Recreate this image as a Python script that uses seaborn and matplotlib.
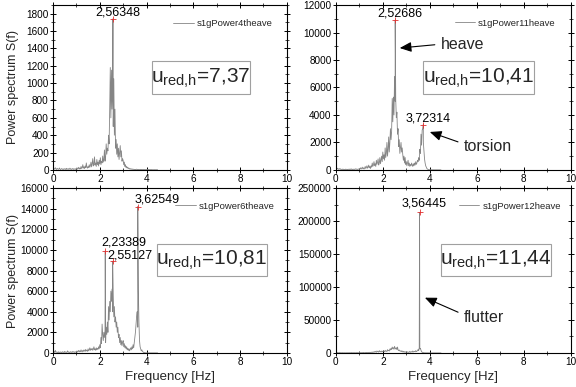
import numpy as np
import pandas as pd
import matplotlib
matplotlib.use("Agg")
import matplotlib.pyplot as plt
from matplotlib.ticker import MultipleLocator, FuncFormatter
from matplotlib.patches import Rectangle
import seaborn as sns

# ---------------- data ----------------
freq_step = 0.025  # spectrum sampling grid (Hz), 0 .. 4.475 (20 values per 0.5 Hz row)

p4_base = [
    5, 20, 8, 15, 25, 10, 5, 18, 12, 6, 10, 22, 8, 4, 12, 15, 6, 10, 5, 14,
    8, 12, 4, 18, 6, 10, 15, 5, 9, 20, 7, 12, 5, 10, 16, 6, 11, 8, 14, 5,
    10, 25, 8, 15, 30, 10, 20, 12, 40, 15, 25, 60, 20, 35, 15, 45, 25, 80, 30, 20,
    40, 25, 60, 30, 50, 90, 35, 70, 130, 45, 60, 150, 55, 80, 40, 120, 60, 90, 45, 110,
    70, 140, 60, 100, 80, 160, 90, 120, 230, 100, 150, 300, 180, 250, 220, 400, 300, 700, 1180, 600,
    1150, 700, 900, 500, 1050, 400, 700, 250, 350, 180, 300, 150, 250, 120, 200, 280, 150, 220, 100, 130,
    110, 60, 90, 40, 60, 25, 40, 20, 30, 15, 20, 10, 15, 8, 12, 6, 10, 5, 8, 4,
    6, 3, 5, 8, 4, 6, 3, 5, 2, 4, 6, 3, 5, 2, 4, 3, 5, 2, 3, 4,
    3, 5, 2, 6, 3, 2, 4, 1, 3, 2, 1, 2, 1, 2, 1, 1, 2, 1, 1, 1]
p4_peak_f = [2.56348]
p4_peak_v = [1740]

p11_base = [
    100, 150, 60, 120, 80, 40, 60, 100, 50, 30, 40, 60, 20, 50, 30, 40, 20, 60, 30, 40,
    20, 50, 30, 60, 20, 40, 80, 30, 50, 20, 40, 60, 30, 50, 80, 40, 60, 30, 50, 70,
    40, 80, 150, 60, 100, 200, 80, 150, 60, 120, 250, 100, 180, 300, 120, 200, 350, 150, 250, 100,
    300, 200, 500, 250, 350, 600, 300, 450, 250, 700, 400, 550, 800, 350, 500, 900, 450, 700, 1000, 600,
    1300, 800, 1100, 700, 1600, 900, 1200, 2000, 1000, 1500, 2400, 1300, 2000, 3000, 2200, 2800, 5200, 3500, 5300, 4000,
    6800, 5000, 5100, 3800, 4200, 2600, 3000, 1700, 2200, 1200, 1600, 2000, 1300, 1600, 1100, 700, 1000, 500, 900, 400,
    600, 300, 500, 700, 300, 500, 250, 400, 300, 500, 350, 250, 450, 300, 500, 350, 600, 400, 500, 700,
    600, 900, 700, 1500, 1200, 2600, 1800, 2900, 3000, 2000, 1400, 800, 500, 300, 200, 100, 60, 30, 20, 10,
    15, 8, 10, 5, 8, 4, 6, 3, 5, 2, 4, 3, 2, 3, 1, 2, 1, 2, 1, 1]
p11_peak_f = [2.52686, 3.72314]
p11_peak_v = [10900, 3300]

p6_base = [
    200, 100, 150, 50, 250, 80, 100, 40, 60, 120, 30, 80, 50, 100, 40, 60, 120, 50, 90, 40,
    150, 60, 100, 50, 80, 200, 60, 100, 40, 80, 120, 50, 100, 60, 150, 80, 100, 50, 120, 70,
    100, 200, 80, 150, 250, 100, 200, 120, 300, 150, 100, 250, 150, 300, 200, 150, 350, 200, 250, 150,
    400, 200, 300, 500, 250, 400, 300, 450, 250, 350, 600, 300, 400, 250, 500, 300, 450, 350, 600, 400,
    800, 500, 1500, 900, 2800, 1800, 1200, 2000, 1500, 2200, 1000, 2500, 1800, 3000, 2000, 4500, 3200, 5000, 4000, 6000,
    5000, 6200, 4000, 5500, 3500, 4500, 3000, 3500, 2500, 3000, 2000, 2500, 1500, 1800, 1000, 1500, 800, 1200, 700, 1000,
    1200, 600, 900, 500, 700, 400, 600, 300, 450, 250, 400, 200, 350, 500, 300, 600, 400, 800, 500, 1000,
    1500, 2000, 2800, 3500, 4000, 2500, 6000, 3000, 1200, 600, 400, 200, 300, 150, 100, 50, 30, 20, 10, 8,
    10, 5, 8, 4, 6, 3, 5, 2, 4, 3, 2, 3, 1, 2, 1, 2, 1, 2, 1, 1]
p6_peak_f = [2.23389, 2.55127, 3.62549]
p6_peak_v = [9900, 8900, 14200]

p12_base = [
    500, 300, 800, 200, 400, 100, 300, 600, 200, 100, 300, 200, 400, 150, 100, 300, 200, 100, 300, 150,
    300, 150, 200, 400, 100, 300, 200, 500, 150, 300, 200, 400, 250, 100, 300, 200, 500, 250, 300, 150,
    300, 600, 200, 400, 300, 500, 300, 700, 400, 200, 600, 400, 800, 500, 300, 900, 600, 400, 1000, 700,
    800, 1200, 600, 1500, 900, 1800, 1200, 2500, 1500, 1000, 3000, 1800, 2200, 1200, 3500, 2000, 2500, 1500, 2800, 2000,
    2000, 3500, 2500, 1800, 4000, 2500, 3000, 2000, 5000, 3500, 4000, 2800, 6000, 4500, 7000, 5000, 9000, 6500, 8000, 5500,
    10000, 7000, 6000, 8000, 5000, 9000, 4500, 3500, 4500, 3000, 2500, 3500, 2000, 3000, 1500, 2500, 1200, 2000, 1000, 1800,
    1200, 2000, 1000, 1500, 800, 1200, 2500, 1000, 1500, 2000, 1200, 3000, 1500, 2000, 2500, 1800, 3500, 2000, 2500, 4000,
    5000, 3500, 8000, 6000, 7000, 4000, 2000, 1000, 800, 400, 200, 100, 80, 60, 50, 40, 30, 20, 15, 10,
    10, 8, 6, 5, 4, 3, 3, 2, 2, 1, 1, 1, 1, 1, 1, 1, 1, 1, 1, 1]
p12_peak_f = [3.56445]
p12_peak_v = [213000]

series_names = ["s1gPower4theave", "s1gPower11heave", "s1gPower6theave", "s1gPower12heave"]
u_values = ["7,37", "10,41", "10,81", "11,44"]
y_max = [1900, 12000, 16000, 250000]
y_major = [200, 2000, 2000, 50000]

bases = [p4_base, p11_base, p6_base, p12_base]
peaks_f = [p4_peak_f, p11_peak_f, p6_peak_f, p12_peak_f]
peaks_v = [p4_peak_v, p11_peak_v, p6_peak_v, p12_peak_v]

# peak label offsets (pixels: dx, dy above the marker)
label_offsets = [[(5, 3)], [(5, 4), (5, 3)], [(19, 5), (17, 3), (19, 4)], [(4, 6)]]

# ---------------- style ----------------
sns.set_theme(style="ticks")
plt.rcParams["font.family"] = ["Liberation Sans", "DejaVu Sans"]
plt.rcParams["mathtext.fontset"] = "custom"
plt.rcParams["mathtext.rm"] = "Liberation Sans"
plt.rcParams["mathtext.it"] = "Liberation Sans"

fig = plt.figure(figsize=(5.76, 3.87), dpi=100)
positions = [[0.092, 0.561, 0.406, 0.426], [0.583, 0.561, 0.408, 0.426],
             [0.092, 0.088, 0.406, 0.426], [0.583, 0.088, 0.408, 0.426]]
boxes = [(0.423, 0.461, 0.419, 0.200), (0.370, 0.461, 0.473, 0.200),
         (0.444, 0.467, 0.471, 0.194), (0.447, 0.467, 0.468, 0.194)]
legend_anchor = [(0.94, 0.885), (0.936, 0.89), (0.949, 0.89), (0.957, 0.89)]
px2pt = 0.72

axes = []
for i in range(4):
    ax = fig.add_axes(positions[i])
    axes.append(ax)
    grid = np.arange(len(bases[i])) * freq_step
    f = np.concatenate([grid, peaks_f[i]])
    v = np.concatenate([bases[i], peaks_v[i]])
    df = pd.DataFrame({"freq": f, "power": v}).sort_values("freq")
    sns.lineplot(data=df, x="freq", y="power", ax=ax, color="#858585", lw=0.6,
                 estimator=None, sort=True, label=series_names[i])
    ax.set_xlim(0, 10)
    ax.set_ylim(0, y_max[i])
    ax.xaxis.set_major_locator(MultipleLocator(2))
    ax.xaxis.set_minor_locator(MultipleLocator(1))
    ax.yaxis.set_major_locator(MultipleLocator(y_major[i]))
    ax.yaxis.set_minor_locator(MultipleLocator(y_major[i] / 2))
    ax.yaxis.set_major_formatter(FuncFormatter(lambda val, pos: f"{int(round(val))}"))
    ax.tick_params(axis="both", which="major", labelsize=7.2, length=4, width=0.7,
                   direction="inout", colors="black", pad=1.0)
    ax.tick_params(axis="both", which="minor", length=2.5, width=0.6, direction="inout")
    ax.tick_params(top=True, right=True, which="both")
    for sp in ax.spines.values():
        sp.set_visible(True)
        sp.set_linewidth(0.8)
        sp.set_color("black")
    ax.set_xlabel("")
    ax.set_ylabel("")

    # peak markers and labels
    for (pf, pv), (dx, dy) in zip(zip(peaks_f[i], peaks_v[i]), label_offsets[i]):
        ax.plot([pf], [pv], marker="+", color="#e03030", ms=4, mew=0.6, zorder=5)
        ax.annotate(f"{pf:.5f}".replace(".", ","), xy=(pf, pv),
                    xytext=(dx * px2pt, dy * px2pt), textcoords="offset points",
                    ha="center", va="baseline", fontsize=9, color="black")

    # u_red,h box
    bx, by, bw, bh = boxes[i]
    ax.add_patch(Rectangle((bx, by), bw, bh, transform=ax.transAxes, fill=True,
                           facecolor="white", edgecolor="#a0a0a0", lw=0.8, zorder=6))
    ax.text(bx + bw / 2, by + bh / 2 - 0.005,
            r"$\mathregular{u_{red{,}h}}$=" + u_values[i],
            transform=ax.transAxes, ha="center", va="center", fontsize=15, zorder=7)

    leg = ax.legend(loc="center right", bbox_to_anchor=legend_anchor[i], frameon=False,
                    fontsize=6.8, handlelength=2.2, handletextpad=0.3,
                    borderpad=0, borderaxespad=0)

for i in (0, 2):
    axes[i].set_ylabel("Power spectrum S(f)", fontsize=9)
    axes[i].yaxis.set_label_coords(-0.145, 0.5)
for i in (2, 3):
    axes[i].set_xlabel("Frequency [Hz]", fontsize=9.5)
    axes[i].xaxis.set_label_coords(0.5, -0.112)

arrow_kw = dict(arrowstyle="-|>,head_length=0.7,head_width=0.3", color="black", lw=0.8,
                mutation_scale=10, shrinkA=2, shrinkB=0)
axes[1].annotate("heave", xy=(2.72, 8870), xytext=(4.47, 9150), ha="left", va="center",
                 fontsize=11.5, arrowprops=dict(relpos=(0, 0.5), **arrow_kw))
axes[1].annotate("torsion", xy=(4.0, 2760), xytext=(5.45, 1670), ha="left", va="center",
                 fontsize=11.5, arrowprops=dict(relpos=(0, 0.7), **arrow_kw))
axes[3].annotate("flutter", xy=(3.79, 83800), xytext=(5.45, 53350), ha="left", va="center",
                 fontsize=11.5, arrowprops=dict(relpos=(0, 0.7), **arrow_kw))

fig.savefig("out.png", dpi=100)
